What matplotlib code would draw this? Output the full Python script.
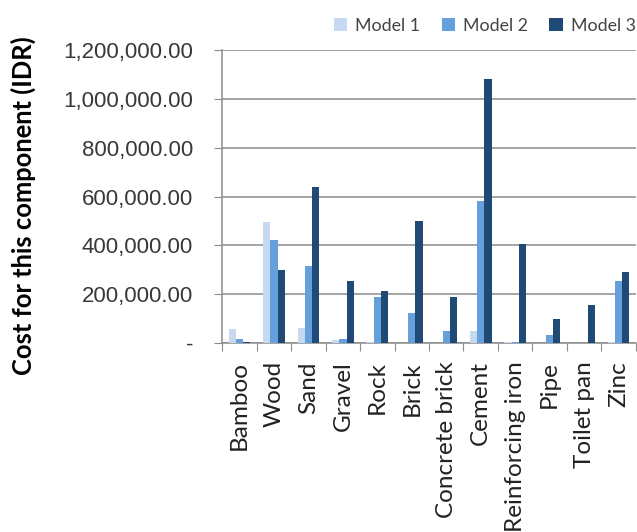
import numpy as np
import matplotlib
matplotlib.use('Agg')
from matplotlib import pyplot as plt
from matplotlib.ticker import FuncFormatter

# ---------------- Dados ----------------
componentes = ['Bamboo', 'Wood', 'Sand', 'Gravel', 'Rock', 'Brick', 'Concrete brick',
               'Cement', 'Reinforcing iron', 'Pipe', 'Toilet pan', 'Zinc']
model1 = [57000, 495000, 64000, 12000, 4000, 0, 0, 50000, 4000, 0, 0, 4000]
model2 = [16000, 424000, 314000, 18000, 188000, 123000, 50000, 580000, 5000, 33000, 0, 254000]
model3 = [5000, 300000, 640000, 254000, 214000, 502000, 188000, 1083000, 404000, 97000, 155000, 293000]
series = ['Model 1', 'Model 2', 'Model 3']
cores = ['#c6d9f1', '#65a0dc', '#1f4a76']

# ---------------- Gráfico ----------------
fig = plt.figure(figsize=(6.37, 5.32), dpi=100)
ax = fig.add_axes([0.349, 0.355, 0.649, 0.551])

x = np.arange(len(componentes))
largura = 0.21
for i, (valores, nome, cor) in enumerate(zip([model1, model2, model3], series, cores)):
    ax.bar(x + (i - 1) * largura, valores, largura, color=cor, label=nome, zorder=3)

ax.set_xlim(-0.5, len(componentes) - 0.5)
ax.set_ylim(0, 1200000)
ax.set_yticks(np.arange(0, 1200001, 200000))
ax.yaxis.set_major_formatter(FuncFormatter(lambda v, p: '-' if v == 0 else f'{v:,.2f}'))
ax.grid(axis='y', color='#8c8c8c', linewidth=1.1, zorder=0)

ax.set_xticks(np.arange(-0.5, len(componentes), 1.0), minor=False)
ax.set_xticklabels([])
ax.set_xticks(x, minor=True)
ax.set_xticklabels(componentes, minor=True, rotation=90, fontsize=17.5,
                   family='Lato', color='#222222')
ax.tick_params(axis='x', which='minor', length=0, pad=13)
ax.tick_params(axis='x', which='major', length=6, color='#8c8c8c')
ax.tick_params(axis='y', length=6, color='#8c8c8c', labelsize=16, labelcolor='#383838', pad=15)
for t in ax.get_yticklabels():
    t.set_family('Liberation Sans')

for s in ['top', 'right']:
    ax.spines[s].set_visible(False)
for s in ['left', 'bottom']:
    ax.spines[s].set_color('#8c8c8c')
    ax.spines[s].set_linewidth(1.1)

ax.set_ylabel('Cost for this component (IDR)', fontsize=18.4, fontweight='bold',
              family='Lato')
ax.yaxis.set_label_coords(-0.45, 0.47)

ax.legend(loc='center right', bbox_to_anchor=(1.0, 1.083), ncol=3, frameon=False,
          handlelength=0.75, handleheight=0.75, handletextpad=0.45,
          columnspacing=1.2, labelcolor='#444444', prop={'family': 'Lato', 'size': 12.8},
          borderaxespad=0, borderpad=0)

fig.savefig('out.png', dpi=100)
